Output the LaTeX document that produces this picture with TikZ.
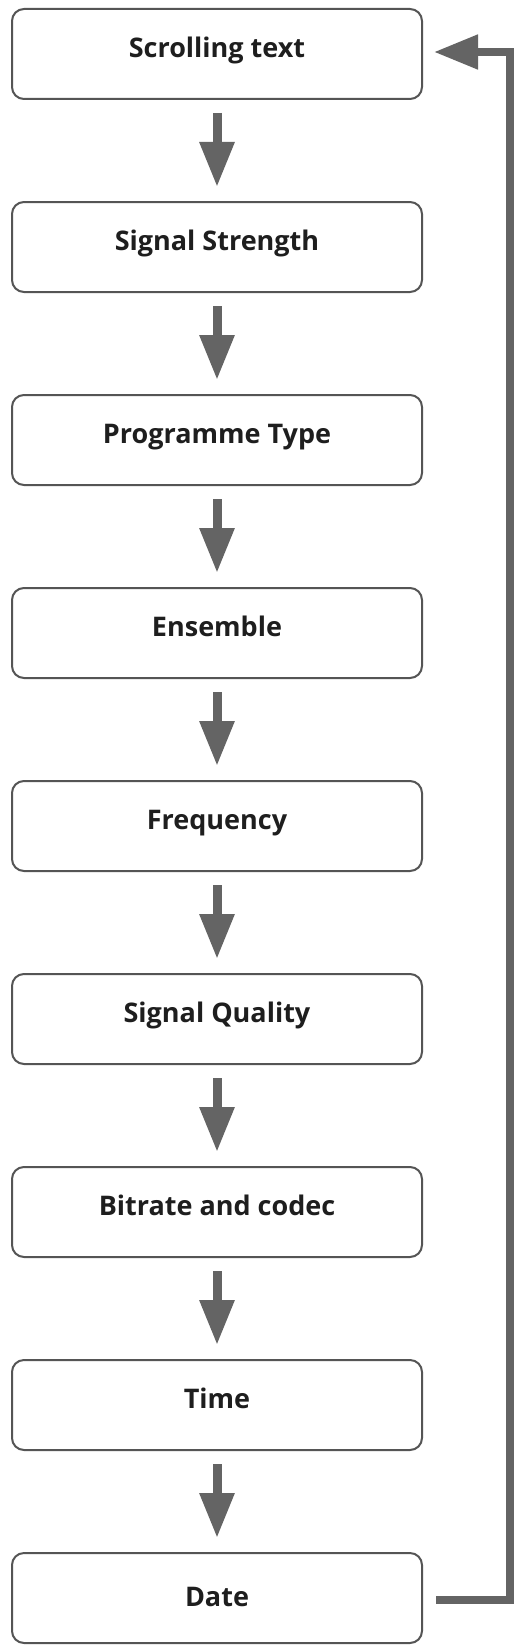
\documentclass[tikz,border=0pt]{standalone}
\usepackage{fontspec}
\setmainfont{Open Sans}
\usetikzlibrary{arrows.meta}
\definecolor{boxline}{RGB}{85,85,85}
\definecolor{arrgray}{RGB}{100,100,100}
\definecolor{txt}{RGB}{30,30,30}
\begin{document}
\begin{tikzpicture}[x=1pt,y=-1pt,
  box/.style={draw=boxline,line width=2pt,rounded corners=12pt,minimum width=410pt,minimum height=90pt,
    inner sep=0pt,text=txt,text height=20pt,text depth=12.6pt,font=\fontsize{27}{30}\selectfont\bfseries},
  arr/.style={draw=arrgray,line width=9pt,-{Triangle[length=45pt,width=33pt]}},
  fb/.style={draw=arrgray,line width=8pt,line join=miter,-{Triangle[length=44pt,width=33pt]}}]
\fill[white] (0,0) rectangle (523,1651);
\useasboundingbox (0,0) rectangle (523,1651);
\node[box] (b1) at (217,54) {Scrolling text};
\node[box] (b2) at (217,247) {Signal Strength};
\node[box] (b3) at (217,440) {Programme Type};
\node[box] (b4) at (217,633) {Ensemble};
\node[box] (b5) at (217,826) {Frequency};
\node[box] (b6) at (217,1019) {Signal Quality};
\node[box] (b7) at (217,1212) {Bitrate and codec};
\node[box] (b8) at (217,1405) {Time};
\node[box,text depth=4pt] (b9) at (217,1598) {Date};
\foreach \a/\b in {b1/b2,b2/b3,b3/b4,b4/b5,b5/b6,b6/b7,b7/b8,b8/b9}
  \draw[arr] ([yshift=-13pt]\a.south) -- ([yshift=14pt]\b.north);
\coordinate (rail) at (510,0);
\draw[fb] ([xshift=13pt,yshift=-2pt]b9.east) -| ([yshift=2pt]rail |- b1.east) -- ([xshift=11pt,yshift=2pt]b1.east);
\end{tikzpicture}
\end{document}
